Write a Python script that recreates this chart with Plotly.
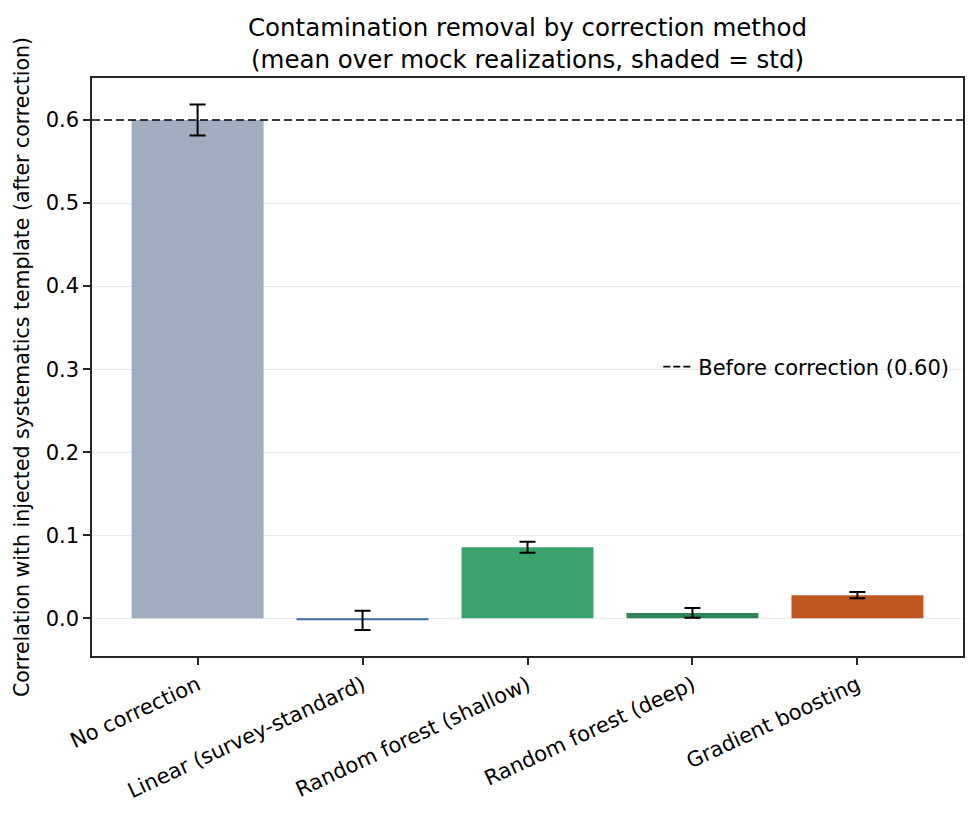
import plotly.graph_objects as go

# values
methods = [
    "No correction",
    "Linear (survey-standard)",
    "Random forest (shallow)",
    "Random forest (deep)",
    "Gradient boosting",
]
mean_corr = [0.600, -0.0025, 0.0855, 0.0065, 0.0278]
std_corr = [0.0187, 0.0115, 0.0066, 0.0058, 0.0038]
bar_colors = ["#a0adbf", "#3a6ea8", "#3aa36b", "#2e8658", "#c05723"]
before_level = 0.60

FONT = "DejaVu Sans"

fig = go.Figure()

fig.add_trace(go.Bar(
    x=methods, y=mean_corr, width=0.8,
    marker=dict(color=bar_colors, line=dict(width=0)),
    error_y=dict(type="data", array=std_corr, visible=True,
                 color="black", thickness=2, width=8),
    showlegend=False,
))

# legend entry for the reference line (line itself drawn as a shape)
fig.add_trace(go.Scatter(
    x=[None], y=[None], mode="lines",
    line=dict(color="black", width=1.6, dash="7px,3px"),
    name=f"Before correction ({before_level:.2f})",
))

fig.add_shape(type="line", xref="paper", x0=0, x1=1, yref="y",
              y0=before_level, y1=before_level,
              line=dict(color="black", width=1.6, dash="8px,4px"))

fig.update_layout(
    width=978, height=814,
    margin=dict(l=92, r=15, t=78, b=158),
    paper_bgcolor="white", plot_bgcolor="white",
    font=dict(family=FONT, size=21, color="black"),
    title=dict(
        text="Contamination removal by correction method<br>(mean over mock realizations, shaded = std)",
        x=0.5, xref="paper", xanchor="center",
        y=1 - 36 / 814, yref="container", yanchor="top",
        font=dict(family=FONT, size=24.5, color="black"),
    ),
    legend=dict(x=0.99, y=0.5, xanchor="right", yanchor="middle",
                bgcolor="rgba(0,0,0,0)", font=dict(size=21)),
)

fig.update_xaxes(
    range=[-0.64, 4.64], tickangle=-25,
    showline=True, mirror=True, linecolor="#262626", linewidth=1.5,
    ticks="outside", ticklen=7, tickwidth=1.5, tickcolor="#262626",
    showgrid=False, tickfont=dict(size=21),
)
fig.update_yaxes(
    range=[-0.0454, 0.6506], dtick=0.1, tickformat=".1f",
    showline=True, mirror=True, linecolor="#262626", linewidth=1.5,
    ticks="outside", ticklen=7, tickwidth=1.5, tickcolor="#262626",
    showgrid=True, gridcolor="#ebebeb", gridwidth=1.2, zeroline=False,
    tickfont=dict(size=21),
    title=dict(text="Correlation with injected systematics template (after correction)",
               font=dict(size=20.5), standoff=10),
)

# page body margin would shift the figure, so drop it
fig.write_html("out.html", config={"displayModeBar": False},
               post_script="document.body.style.margin='0';")
